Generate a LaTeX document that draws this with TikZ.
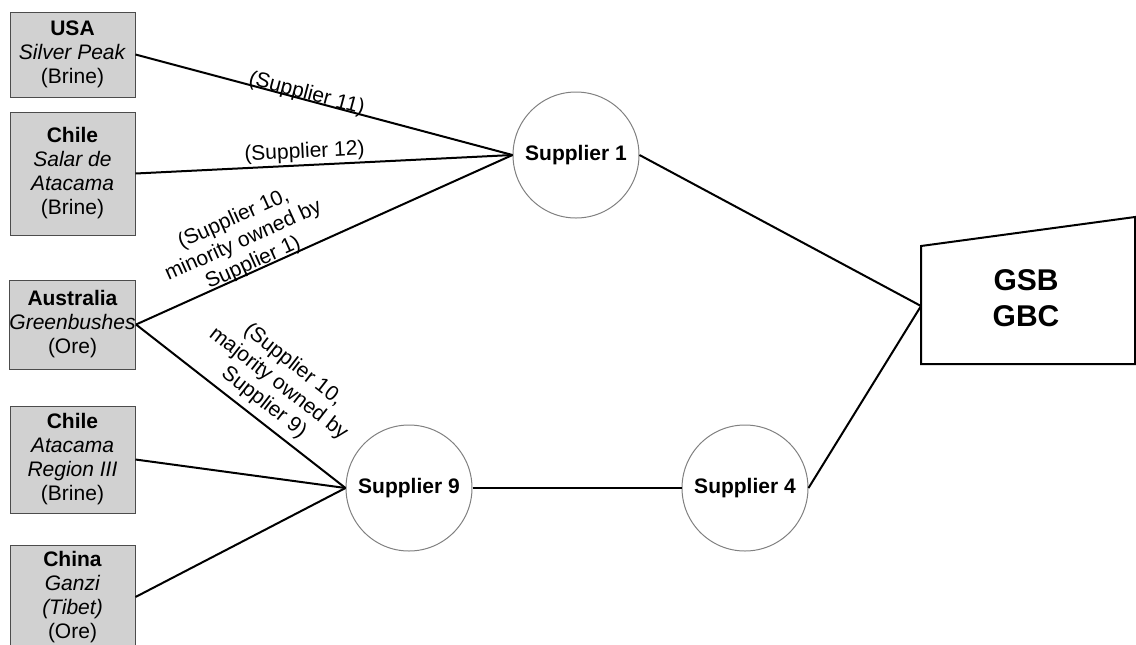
\documentclass[tikz,border=0pt]{standalone}
\usepackage{fontspec}
\setmainfont{Liberation Sans}
\begin{document}
\begin{tikzpicture}[x=0.5pt, y=-0.5pt,
  font=\fontsize{10.5pt}{12pt}\selectfont,
  mine/.style={draw=black!70, fill=black!18, line width=0.5pt, minimum width=62.5pt, align=center, inner sep=0pt},
  firm/.style={circle, draw=black!50, line width=0.5pt, minimum size=63pt, inner sep=0pt, font=\fontsize{10.5pt}{12pt}\selectfont\bfseries},
  link/.style={line width=1pt},
  lbl/.style={sloped, inner sep=0pt, align=center}]
\useasboundingbox (0,0) rectangle (1136,644);

% Mines
\node[mine, minimum height=42.5pt] (usa) at (72.5,54.5) {\textbf{USA}\\\textit{Silver Peak}\\(Brine)};
\node[mine, minimum height=61.5pt] (chile1) at (72.5,173.5) {\textbf{Chile}\\\textit{Salar de}\\\textit{Atacama}\\(Brine)};
\node[mine, minimum height=44.5pt] (aus) at (72.5,324.5) {\textbf{Australia}\\\textit{Greenbushes}\\(Ore)};
\node[mine, minimum height=53.5pt] (chile2) at (72.5,459.5) {\textbf{Chile}\\\textit{Atacama}\\\textit{Region III}\\(Brine)};
\node[mine, minimum height=52pt] (china) at (72.5,597) {\textbf{China}\\\textit{Ganzi}\\\textit{(Tibet)}\\(Ore)};

% Suppliers
\node[firm] (s1) at (576,155) {Supplier 1};
\node[firm] (s9) at (409,488) {Supplier 9};
\node[firm] (s4) at (745,488) {Supplier 4};

% Customer
\draw[line width=1pt] (921,246) -- (1135,217) -- (1135,364) -- (921,364) -- cycle;
\node[font=\fontsize{15pt}{18pt}\selectfont\bfseries, align=center] (gsb) at (1026,298) {GSB\\GBC};
\coordinate (gsbin) at (921,306);

% Links
\draw[link] (usa.east) -- node[lbl, pos=0.45, above=-2.5pt] {(Supplier 11)} (s1.west);
\draw[link] (chile1.east) -- node[lbl, pos=0.45, above=1pt] {(Supplier 12)} (s1.west);
\draw[link] (aus.east) -- node[lbl, pos=0.32, above=-1.5pt] {(Supplier 10,\\minority owned by\\Supplier 1)} (s1.west);
\draw[link] (aus.east) -- node[lbl, pos=0.56, above=3pt] {(Supplier 10,\\majority owned by\\Supplier 9)} (s9.west);
\draw[link] (chile2.east) -- (s9.west);
\draw[link] (china.east) -- (s9.west);
\draw[link] (s9.east) -- (s4.west);
\draw[link] (s1.east) -- (gsbin);
\draw[link] (s4.east) -- (gsbin);
\end{tikzpicture}
\end{document}
